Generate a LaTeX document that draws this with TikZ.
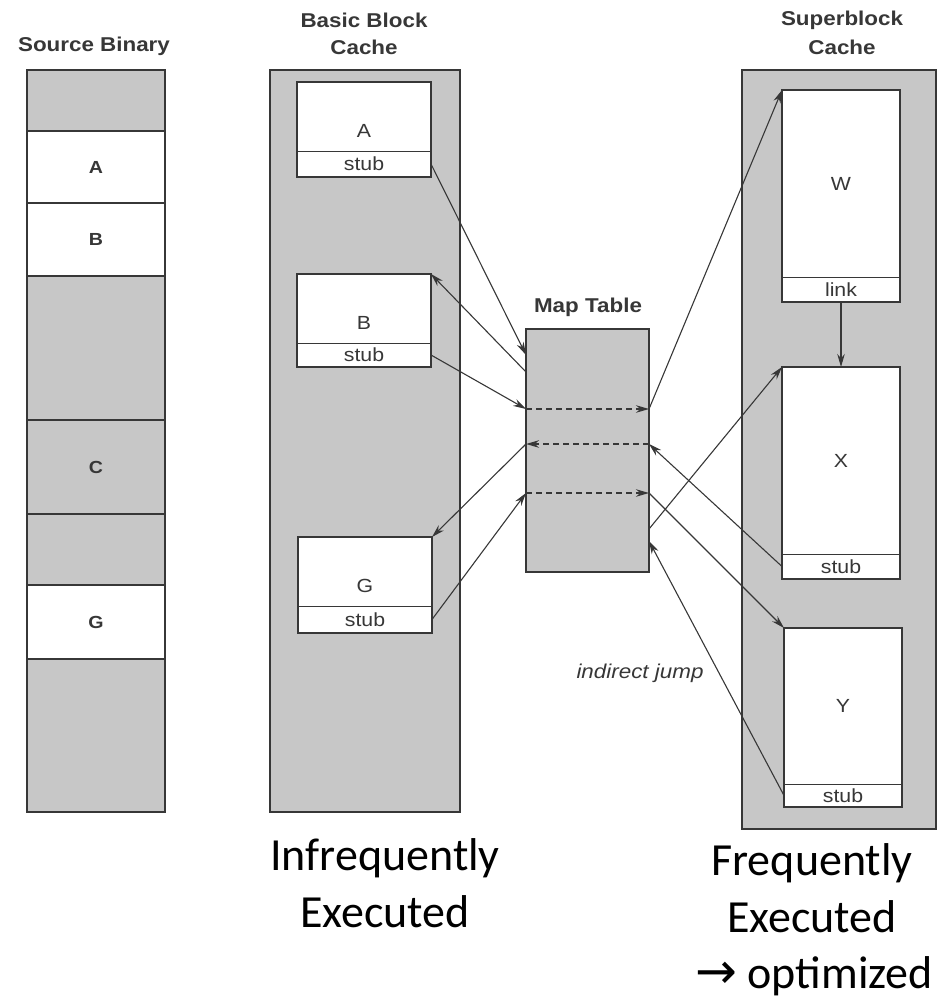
\documentclass[tikz,border=0pt]{standalone}
\usepackage{fontspec}
\setmainfont{Liberation Sans}[FakeStretch=1.12]
\newfontfamily\notefont{Carlito}
\newfontfamily\symfont{DejaVu Sans}
\usetikzlibrary{arrows.meta,calc}
\definecolor{cachegray}{RGB}{199,199,199}
\definecolor{ink}{RGB}{55,55,55}

\begin{document}
\begin{tikzpicture}[x=1pt,y=-1pt,
  every node/.style={inner sep=0pt,outer sep=0pt},
  box/.style={draw=ink,line width=1.7pt,anchor=north west,minimum width=#1},
  seg/.style={box=138pt,fill=cachegray},
  hot/.style={box=138pt,fill=white},
  cell/.style={draw=ink,line width=0.9pt,fill=white,anchor=north west,minimum width=#1,
    text=ink,font=\fontsize{19}{22}\selectfont},
  frame/.style={draw=ink,line width=1.8pt},
  title/.style={text=ink,font=\fontsize{20}{24}\selectfont\bfseries},
  srclabel/.style={text=ink,font=\fontsize{17.5}{20}\selectfont\bfseries},
  flow/.style={draw=ink,line width=1.1pt,-{Stealth[length=13pt,width=7.5pt]}},
  lookup/.style={draw=ink,line width=1.6pt,dash pattern=on 6pt off 4pt,
    -{Stealth[length=13pt,width=7.5pt]}},
  note/.style={font=\notefont\fontsize{46}{57}\selectfont,anchor=base}
]
\useasboundingbox (0,0) rectangle (941,1000);

% ---------- Source binary ----------
\node[title] (srcT) at (94,46) {Source Binary};
\node[seg,minimum height=61pt]  (s0) at (27,70)  {};
\node[hot,minimum height=72pt]  (sA) at (27,131) {};
\node[hot,minimum height=73pt]  (sB) at (27,203) {};
\node[seg,minimum height=144pt] (s1) at (27,276) {};
\node[seg,minimum height=94pt]  (sC) at (27,420) {};
\node[seg,minimum height=71pt]  (s2) at (27,514) {};
\node[hot,minimum height=74pt]  (sG) at (27,585) {};
\node[seg,minimum height=153pt] (s3) at (27,659) {};
\node[srclabel] at (sA) {A};
\node[srclabel] at (sB) {B};
\node[srclabel] at (sC) {C};
\node[srclabel] at (sG) {G};

% ---------- Basic block cache ----------
\node[title] (bbT1) at (364,20) {Basic Block};
\node[title] (bbT2) at (364,47) {Cache};
\node[box=190pt,fill=cachegray,minimum height=742pt] (bbc) at (270,70) {};

\node[cell=134pt,minimum height=69pt,label={[text=ink,font=\fontsize{19}{22}\selectfont,yshift=-14pt]center:A}] (Ab) at (297,82) {};
\node[cell=134pt,minimum height=26pt] (As) at (297,151) {stub};
\draw[frame] (Ab.north west) rectangle (As.south east);

\node[cell=134pt,minimum height=69pt,label={[text=ink,font=\fontsize{19}{22}\selectfont,yshift=-14pt]center:B}] (Bb) at (297,274) {};
\node[cell=134pt,minimum height=24pt] (Bs) at (297,343) {stub};
\draw[frame] (Bb.north west) rectangle (Bs.south east);

\node[cell=134pt,minimum height=69pt,label={[text=ink,font=\fontsize{19}{22}\selectfont,yshift=-14pt]center:G}] (Gb) at (298,537) {};
\node[cell=134pt,minimum height=27pt] (Gs) at (298,606) {stub};
\draw[frame] (Gb.north west) rectangle (Gs.south east);

% ---------- Map table ----------
\node[title] (mapT) at (588,307) {Map Table};
\node[box=123pt,fill=cachegray,minimum height=243pt] (map) at (526,329) {};

% ---------- Superblock cache ----------
\node[title] (sbT1) at (842,20) {Superblock};
\node[title] (sbT2) at (842,47) {Cache};
\node[box=194pt,fill=cachegray,minimum height=759pt] (sbc) at (742,70) {};

\node[cell=118pt,minimum height=187pt] (Wb) at (782,90) {W};
\node[cell=118pt,minimum height=25pt]  (Wl) at (782,277) {link};
\draw[frame] (Wb.north west) rectangle (Wl.south east);

\node[cell=118pt,minimum height=187pt] (Xb) at (782,367) {X};
\node[cell=118pt,minimum height=25pt]  (Xs) at (782,554) {stub};
\draw[frame] (Xb.north west) rectangle (Xs.south east);

\node[cell=118pt,minimum height=156pt] (Yb) at (784,628) {Y};
\node[cell=118pt,minimum height=23pt]  (Ys) at (784,784) {stub};
\draw[frame] (Yb.north west) rectangle (Ys.south east);

% ---------- ports on the map table ----------
\coordinate (pL1) at (map.west |- 0,355);
\coordinate (pL2) at (map.west |- 0,372);
\coordinate (pL3) at (map.west |- 0,409);
\coordinate (pL4) at (map.west |- 0,444);
\coordinate (pL5) at (map.west |- 0,493);
\coordinate (pR1) at (map.east |- 0,409);
\coordinate (pR2) at (map.east |- 0,444);
\coordinate (pR3) at (map.east |- 0,493);
\coordinate (pR4) at (map.east |- 0,529);
\coordinate (pR5) at (map.east |- 0,541);

% ---------- table lookups ----------
\draw[lookup] (pL3) -- (pR1);
\draw[lookup] (pR2) -- (pL4);
\draw[lookup] (pL5) -- (pR3);

% ---------- control transfers ----------
\draw[flow] (As.east) -- (pL1);
\draw[flow] (pL2) -- (Bb.north east);
\draw[flow] (Bs.east) -- (pL3);
\draw[flow] (pR1) -- (Wb.north west);
\draw[flow] (Xs.west) -- (pR2);
\draw[flow] (pL4) -- (Gb.north east);
\draw[flow] (Gs.east) -- (pL5);
\draw[flow] (pR3) -- (Yb.north west);
\draw[flow] (pR4) -- (Xb.north west);
\draw[flow] (Ys.west) -- (pR5);
\draw[flow] (Wl.south) -- (Xb.north);

\node[text=ink,font=\fontsize{20}{24}\selectfont\itshape] (ij) at (640,673) {indirect jump};

% ---------- captions ----------
\node[note] (inf1) at (385,870) {Infrequently};
\node[note] (inf2) at (385,927) {Executed};
\node[note] (frq1) at (812,875) {Frequently};
\node[note] (frq2) at (812,932) {Executed};
\node[note] (frq3) at (814,988) {{\symfont\fontsize{50}{57}\selectfont →} optimized};
\end{tikzpicture}
\end{document}
